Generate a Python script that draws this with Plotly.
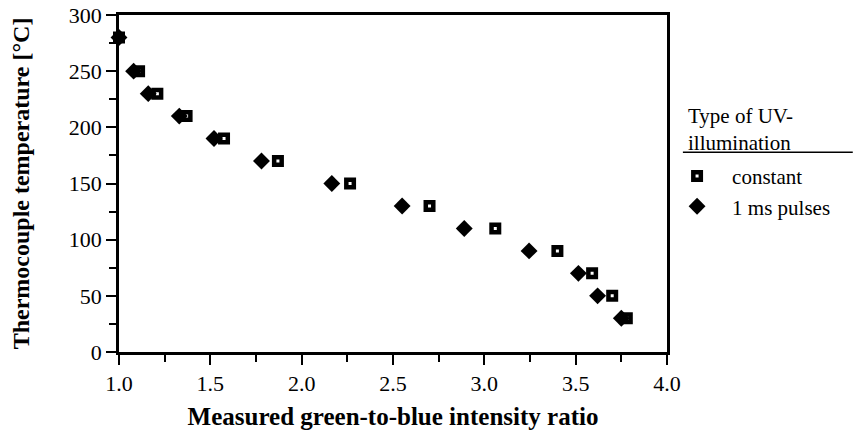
import plotly.graph_objects as go

# Thermocouple temperature vs. measured green-to-blue intensity ratio
temperature = [280, 250, 230, 210, 190, 170, 150, 130, 110, 90, 70, 50, 30]
ratio_constant = [1.00, 1.11, 1.21, 1.37, 1.575, 1.87, 2.265, 2.70, 3.06, 3.40, 3.59, 3.70, 3.78]
ratio_pulsed = [1.00, 1.08, 1.16, 1.33, 1.52, 1.78, 2.165, 2.55, 2.89, 3.245, 3.515, 3.62, 3.75]

x_ticks = [1.0, 1.5, 2.0, 2.5, 3.0, 3.5, 4.0]
y_ticks = [0, 50, 100, 150, 200, 250, 300]

legend_heading = ["Type of UV-", "illumination"]

serif = "Liberation Serif, Times New Roman, serif"

fig = go.Figure()
fig.add_trace(go.Scatter(
    x=ratio_constant, y=temperature, mode="markers", name="constant",
    marker=dict(symbol="square-open", size=7.5, color="black", line=dict(width=4.5, color="black")),
    cliponaxis=False,
))
fig.add_trace(go.Scatter(
    x=ratio_pulsed, y=temperature, mode="markers", name="1 ms pulses",
    marker=dict(symbol="diamond", size=13, color="black", line=dict(width=0)),
    cliponaxis=False,
))

axis_common = dict(
    showgrid=False, zeroline=False, showline=True, linecolor="black", linewidth=2.5,
    mirror=True, ticks="outside", ticklen=10, tickwidth=2, tickcolor="black",
    tickfont=dict(family=serif, size=22, color="black"), automargin=False,
)

fig.update_xaxes(
    range=[1.0, 4.0], tickvals=x_ticks, ticktext=[f"{v:.1f}" for v in x_ticks],
    minor=dict(ticks="outside", ticklen=7, tickwidth=2, tickcolor="black", dtick=0.25, showgrid=False),
    title=dict(text="<b>Measured green-to-blue intensity ratio</b>", font=dict(family=serif, size=25, color="black"), standoff=13),
    **axis_common,
)
fig.update_yaxes(
    range=[0, 300], tickvals=y_ticks,
    minor=dict(ticks="outside", ticklen=7, tickwidth=2, tickcolor="black", dtick=25, showgrid=False),
    title=dict(text="<b>Thermocouple temperature [°C]</b>", font=dict(family=serif, size=24, color="black"), standoff=33),
    **axis_common,
)

fig.update_layout(
    width=853, height=430,
    margin=dict(l=119, r=186, t=15, b=78),
    plot_bgcolor="white", paper_bgcolor="white",
    font=dict(family=serif, color="black"),
    legend=dict(
        x=0.991, xanchor="left", y=0.582, yanchor="top",
        font=dict(family=serif, size=21, color="black"),
        tracegroupgap=0, itemwidth=60,
        bgcolor="rgba(0,0,0,0)",
    ),
    # Legend heading with a rule underneath
    annotations=[dict(text="<br>".join(legend_heading), xref="paper", yref="paper", x=1.035, y=0.66,
                      xanchor="left", yanchor="middle", align="left", showarrow=False,
                      font=dict(family=serif, size=21, color="black"))],
    shapes=[dict(type="line", xref="paper", yref="paper", x0=1.029, x1=1.339, y0=0.593, y1=0.593,
                 line=dict(color="black", width=1.5))],
)

fig.write_html("out.html")
